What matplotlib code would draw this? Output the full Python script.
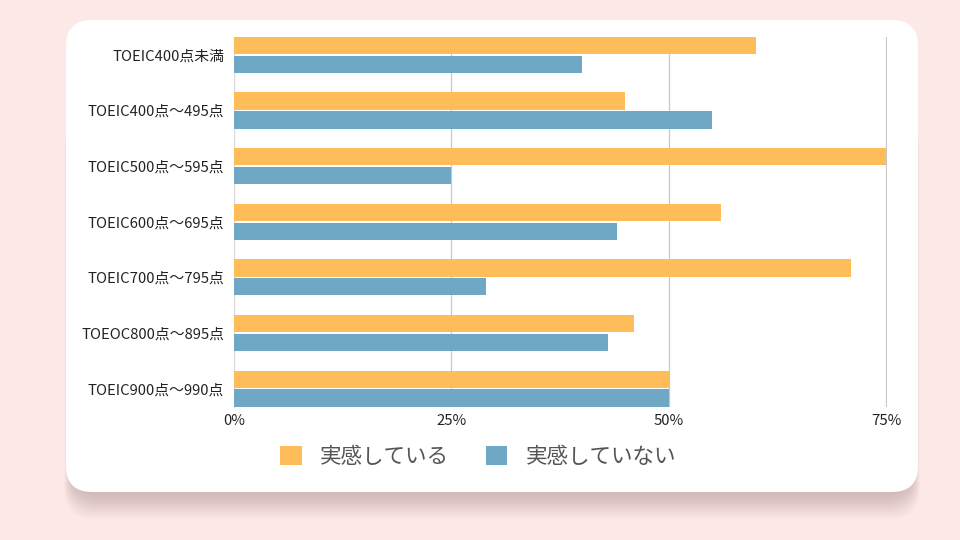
import matplotlib.pyplot as plt
from matplotlib.patches import FancyBboxPatch, Patch

plt.rcParams['font.family'] = ['Noto Sans CJK JP', 'DejaVu Sans']

# Data
categories = ['TOEIC400点未満', 'TOEIC400点〜495点', 'TOEIC500点〜595点',
              'TOEIC600点〜695点', 'TOEIC700点〜795点', 'TOEOC800点〜895点',
              'TOEIC900点〜990点']
feel_yes = [60, 45, 75, 56, 71, 46, 50]
feel_no = [40, 55, 25, 44, 29, 43, 50]
series_names = ['実感している', '実感していない']
xticks = [0, 25, 50, 75]
xtick_labels = ['0%', '25%', '50%', '75%']

orange = '#FFBD59'
blue = '#6FA8C4'

fig = plt.figure(figsize=(9.6, 5.4), dpi=100)
fig.patch.set_facecolor('#FDE8E8')

# background card with soft shadow (pixel coordinates)
bg = fig.add_axes([0, 0, 1, 1])
bg.set_xlim(0, 960)
bg.set_ylim(0, 540)
bg.axis('off')
for i in range(16):
    off = 3 + i * 1.6
    bg.add_patch(FancyBboxPatch((72 - i * 0.5, 48 - off), 840 + i * 1.0, 400,
                                boxstyle='round,pad=0,rounding_size=30',
                                facecolor='#a08585', edgecolor='none',
                                alpha=0.03))
bg.add_patch(FancyBboxPatch((66, 48), 852, 472,
                            boxstyle='round,pad=0,rounding_size=26',
                            facecolor='white', edgecolor='none'))

ax = fig.add_axes([234 / 960, 1 - 407 / 540, (887 - 234) / 960, (407 - 37) / 540])
ax.set_facecolor('none')

y = list(range(len(categories)))
h = 0.31
off = 0.17
ax.barh([v - off for v in y], feel_yes, height=h, color=orange, zorder=3)
ax.barh([v + off for v in y], feel_no, height=h, color=blue, zorder=3)

ax.set_xlim(0, 75.1)
ax.set_ylim(6.33, -0.32)
ax.set_xticks(xticks)
ax.set_xticklabels(xtick_labels)
ax.set_yticks(y)
ax.set_yticklabels(categories)
ax.tick_params(axis='both', length=0, labelsize=10.7, colors='#222222')
ax.tick_params(axis='x', pad=5)
ax.tick_params(axis='y', pad=7)
ax.set_axisbelow(True)
ax.grid(axis='x', color='#c8c8c8', linewidth=0.9)
for s in ['top', 'right', 'bottom']:
    ax.spines[s].set_visible(False)
ax.spines['left'].set_color('#dddddd')

handles = [Patch(facecolor=orange, edgecolor='none'),
           Patch(facecolor=blue, edgecolor='none')]
fig.legend(handles, series_names, loc='center', ncol=2, frameon=False,
           bbox_to_anchor=(478 / 960, 1 - 457 / 540), fontsize=15.5,
           handlelength=1.0, handleheight=1.0, columnspacing=1.7,
           handletextpad=0.85, labelcolor='#555555')

fig.savefig('out.png', dpi=100, facecolor=fig.get_facecolor())
